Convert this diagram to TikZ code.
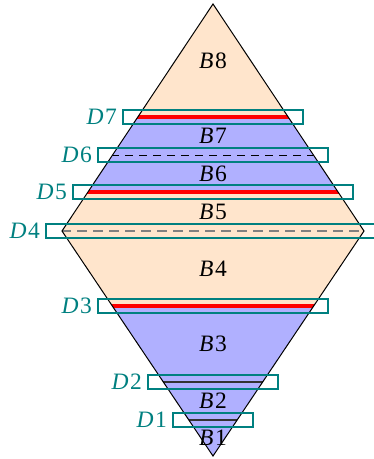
\documentclass[tikz,border=0pt]{standalone}
\usepackage{fontspec}
\setmainfont{Liberation Serif}
\usetikzlibrary{positioning,calc,backgrounds}

\definecolor{peach}{RGB}{255,229,204}
\definecolor{lavender}{RGB}{176,176,255}
\definecolor{bandteal}{RGB}{0,128,128}

\newcommand{\lbl}[2]{\textit{#1}\/\kern1.5pt#2}

\tikzset{
  band/.style={draw=bandteal,line width=2pt,minimum height=14pt,inner sep=0pt},
  dlabel/.style={text=bandteal,inner sep=0pt},
  blabel/.style={inner sep=0pt},
  redcut/.style={red,line width=3.5pt},
  plaincut/.style={black!80,line width=1.2pt},
}

\begin{document}
\begin{tikzpicture}[x=1pt,y=-1pt,font=\fontsize{23.5}{26}\selectfont]
\useasboundingbox (0,0) rectangle (374,459);
\coordinate (top) at (213,4);
\coordinate (left) at (62,231);
\coordinate (right) at (364,231);
\coordinate (bot) at (213,456);

% the bands
\node[band,minimum width=180pt] (d7) at (213,117) {};
\node[band,minimum width=230pt] (d6) at (213,155) {};
\node[band,minimum width=280pt] (d5) at (213,192) {};
\node[band,minimum width=334pt] (d4) at (213,231) {};
\node[band,minimum width=230pt] (d3) at (213,306) {};
\node[band,minimum width=130pt] (d2) at (213,382) {};
\node[band,minimum width=80pt]  (d1) at (213,420) {};

\node[dlabel,left=5pt of d7] {\lbl{D}{7}};
\node[dlabel,left=5pt of d6] {\lbl{D}{6}};
\node[dlabel,left=5pt of d5] {\lbl{D}{5}};
\node[dlabel,left=5pt of d4] {\lbl{D}{4}};
\node[dlabel,left=5pt of d3] {\lbl{D}{3}};
\node[dlabel,left=5pt of d2] {\lbl{D}{2}};
\node[dlabel,left=5pt of d1] {\lbl{D}{1}};

\node[blabel] (b8) at ($(top)!0.5!(d7)$) {\lbl{B}{8}};
\node[blabel] (b7) at ($(d7)!0.5!(d6)$) {\lbl{B}{7}};
\node[blabel] (b6) at ($(d6)!0.5!(d5)$) {\lbl{B}{6}};
\node[blabel] (b5) at ($(d5)!0.5!(d4)$) {\lbl{B}{5}};
\node[blabel] (b4) at ($(d4)!0.5!(d3)$) {\lbl{B}{4}};
\node[blabel] (b3) at ($(d3)!0.5!(d2)$) {\lbl{B}{3}};
\node[blabel] (b2) at ($(d2)!0.5!(d1)$) {\lbl{B}{2}};
\node[blabel] (b1) at ($(d1)!0.5!(bot)$) {\lbl{B}{1}};

\begin{scope}[on background layer]
  \begin{scope}
    \clip (top) -- (right) -- (bot) -- (left) -- cycle;
    \fill[peach] (left |- top) rectangle (right |- bot);
    \fill[lavender] (left |- d7) rectangle (right |- d5);
    \fill[lavender] (left |- d3) rectangle (right |- bot);
    \draw[redcut] (d7.west) -- (d7.east);
    \draw[redcut] (d5.west) -- (d5.east);
    \draw[redcut] (d3.west) -- (d3.east);
    \draw[dash pattern=on 8pt off 6pt,line width=1pt] (d6.west) -- (d6.east);
    \draw[gray,dash pattern=on 10pt off 6pt,line width=1.5pt] (d4.west) -- (d4.east);
    \draw[plaincut] (d2.west) -- (d2.east);
    \draw[plaincut] (d1.west) -- (d1.east);
  \end{scope}
  \draw[line width=1pt] (top) -- (right) -- (bot) -- (left) -- cycle;
\end{scope}
\end{tikzpicture}
\end{document}
